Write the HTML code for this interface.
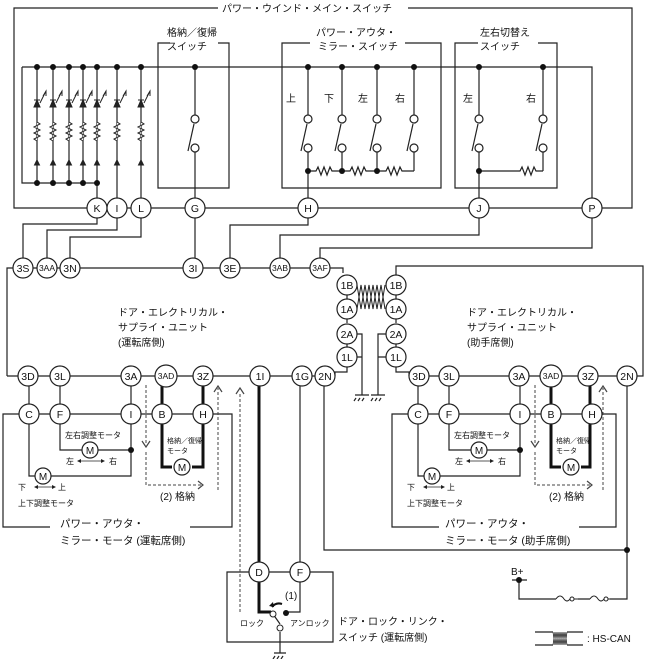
<!DOCTYPE html>
<html><head><meta charset="utf-8"><style>
html,body{margin:0;padding:0;background:#fff}
svg{display:block}
text{font-family:"Liberation Sans","Noto Sans CJK JP",sans-serif;fill:#111}
</style></head><body>
<svg width="646" height="659" viewBox="0 0 646 659" xmlns="http://www.w3.org/2000/svg">
<g fill="none" stroke="#222" stroke-width="1.2">
<path d="M218 8 H14 V208 H632 V8 H408"/>
<path d="M22 67 H592 V198"/>
<path d="M22 67 V183 H97"/>
<path d="M170 43 H158 V188 H229 V43 H218"/>
<path d="M310 43 H282 V188 H441 V43 H405"/>
<path d="M478 43 H455 V188 H557 V43 H538"/>
<path d="M37 67V183 M53 67V183 M69 67V183 M83 67V183 M97 67V198 M117 67V198 M141 67V198"/>
<path d="M195 67V115 M195 152V198 M188 151 L194 124"/>
<circle cx="195" cy="119" r="4"/><circle cx="195" cy="148" r="4"/>
<path d="M308 67V115 M308 152V198 M301 151 L307 124"/>
<circle cx="308" cy="119" r="4"/><circle cx="308" cy="148" r="4"/>
<path d="M342 67V115 M342 152V171 M335 151 L341 124"/>
<circle cx="342" cy="119" r="4"/><circle cx="342" cy="148" r="4"/>
<path d="M377 67V115 M377 152V171 M370 151 L376 124"/>
<circle cx="377" cy="119" r="4"/><circle cx="377" cy="148" r="4"/>
<path d="M414 67V115 M414 152V171 M407 151 L413 124"/>
<circle cx="414" cy="119" r="4"/><circle cx="414" cy="148" r="4"/>
<path d="M308 171 H316 l2-4 l3 8 l3-8 l3 8 l3-8 l2 4 H342 H350 l2-4 l3 8 l3-8 l3 8 l3-8 l2 4 H377 H386 l2-4 l3 8 l3-8 l3 8 l3-8 l2 4 H414"/>
<path d="M479 67V115 M479 152V198 M472 151 L478 124"/>
<circle cx="479" cy="119" r="4"/><circle cx="479" cy="148" r="4"/>
<path d="M543 67V115 M543 152V171 M536 151 L542 124"/>
<circle cx="543" cy="119" r="4"/><circle cx="543" cy="148" r="4"/>
<path d="M479 171 H520 l2-4 l3 8 l3-8 l3 8 l3-8 l2 4 H543"/>
<path d="M97 218V224H23V258 M117 218V230H47V258 M141 218V237H70V258 M195 218V258 M308 218V225H230V258 M479 218V235H280V258 M592 218V248H320V258"/>
<path d="M7 376V268H13 M33 268H37 M57 268H60 M80 268H183 M203 268H220 M240 268H270 M290 268H310 M330 268H343V273"/>
<path d="M7 376H18 M38 376H50 M70 376H121 M141 376H155 M177 376H193 M213 376H250 M270 376H292 M312 376H315"/>
<path d="M347 295V299 M347 319V323 M347 344V347 M396 295V299 M396 319V323 M396 344V347"/>
<path d="M357 334H362V395 M357 357H362 M386 334H378V395 M386 357H378"/>
<path d="M347 367V372H335V376 M396 367V372H409V376"/>
<path d="M396 275V266H643V376H637"/>
<path d="M429 376H439 M459 376H509 M529 376H540 M562 376H578 M598 376H617"/>
<path d="M355 395H369 M371 395H385 M356 398l-2 3 M360 398l-2 3 M364 398l-2 3 M373 398l-2 3 M377 398l-2 3 M381 398l-2 3"/>
<path d="M324 386V550H627 M627 386V599H610 M590 599H578 M556 599H519V580 M512 580H527"/>
<path d="M300 386V562"/>
<path d="M249 572H227V642H333V572H310 M269 572H290"/>
<path d="M300 582V612H288"/>
<path d="M280 624 L273 614 M280 632V653 M274 653H286 M275 656l-2 3 M279 656l-2 3 M283 656l-2 3"/>
<path d="M535 632H553 M567 632H583 M535 645H553 M567 645H583"/>
</g>
<!-- fuses -->
<g fill="none" stroke="#222" stroke-width="1">
<path d="M556 599 q4 -6 8 0 q3 4 6 0"/><circle cx="572" cy="599" r="2" fill="#fff"/><path d="M574 599 H578"/>
<path d="M590 599 q4 -6 8 0 q3 4 6 0"/><circle cx="606" cy="599" r="2" fill="#fff"/><path d="M608 599 H610"/>
</g>
<g fill="none" stroke="#111" stroke-width="3">
<path d="M259 386V562 M259 582V612H271"/>
<path d="M162 386V404 M203 386V404 M162 424V467H172 M192 467H203V424"/>
<path d="M551 386V404 M590 386V404 M551 424V467H561 M581 467H590V424"/>
</g>
<g fill="none" stroke="#222" stroke-width="1">
<path d="M357 285 l4 24 l4-24 l4 24 l4-24 l4 24 l4-24 l4 24"/>
<path d="M357 309 l4-24 l4 24 l4-24 l4 24 l4-24 l4 24 l4-24"/>
<path d="M553 632 l2 13 l2-13 l2 13 l2-13 l2 13 l2-13 l2 13 M553 645 l2-13 l2 13 l2-13 l2 13 l2-13 l2 13 l2-13" stroke-width="0.8"/>
</g>
<g fill="none" stroke="#222" stroke-width="1">
<g id="br">
<path d="M37 122 l3 2 l-6 3 l6 3 l-6 3 l6 3 l-6 3 l3 2" fill="#fff"/>
<path d="M37 100 l-3 7 h6 z M34 100h6" fill="#222"/>
<path d="M40 103 l6-12 M43 96 l3-5 l0 5"/>
<path d="M37 160 l-2.5 5 h5 z" fill="#222"/>
</g>
<use href="#br" x="16"/><use href="#br" x="32"/><use href="#br" x="46"/><use href="#br" x="60"/><use href="#br" x="80"/><use href="#br" x="104"/>
</g>
<g fill="#111">
<circle cx="37" cy="67" r="3"/><circle cx="53" cy="67" r="3"/><circle cx="69" cy="67" r="3"/><circle cx="83" cy="67" r="3"/><circle cx="97" cy="67" r="3"/><circle cx="117" cy="67" r="3"/><circle cx="141" cy="67" r="3"/><circle cx="195" cy="67" r="3"/>
<circle cx="308" cy="67" r="3"/><circle cx="342" cy="67" r="3"/><circle cx="377" cy="67" r="3"/><circle cx="414" cy="67" r="3"/><circle cx="479" cy="67" r="3"/><circle cx="543" cy="67" r="3"/>
<circle cx="37" cy="183" r="3"/><circle cx="53" cy="183" r="3"/><circle cx="69" cy="183" r="3"/><circle cx="83" cy="183" r="3"/><circle cx="97" cy="183" r="3"/>
<circle cx="308" cy="171" r="3"/><circle cx="342" cy="171" r="3"/><circle cx="377" cy="171" r="3"/><circle cx="479" cy="171" r="3"/>
<circle cx="627" cy="550" r="3"/><circle cx="519" cy="580" r="3"/><circle cx="286" cy="613" r="3"/>
</g>
<g fill="#fff" stroke="#222" stroke-width="1">
<circle cx="273" cy="614" r="3"/><circle cx="280" cy="628" r="3"/>
</g>
<path d="M272 607 q4 -5 10 -3" fill="none" stroke="#111" stroke-width="2"/>
<path d="M269 606 l4 -4 l1 5z" fill="#111"/>

<g id="mm">
<g fill="none" stroke="#222" stroke-width="1.2">
<path d="M50 527H3V414H19 M39 414H50 M70 414H121 M141 414H152 M172 414H193 M213 414H232V527H190"/>
<path d="M29 386V404 M60 386V404 M131 386V404"/>
<path d="M60 424V450H82 M98 450H131 M29 424V476H35 M51 476H131V424"/>
</g>
<circle cx="131" cy="450" r="3" fill="#111"/>
<g fill="#fff" stroke="#222" stroke-width="1.2">
<circle cx="90" cy="450" r="8"/><circle cx="43" cy="476" r="8"/><circle cx="182" cy="467" r="8"/>
</g>
<g font-size="10" text-anchor="middle"><text x="90" y="454">M</text><text x="43" y="480">M</text><text x="182" y="471">M</text></g>
<g fill="none" stroke="#444" stroke-width="1" stroke-dasharray="3,2">
<path d="M146 385V445 M146 452V485H201 M218 490V388"/>
</g>
<g fill="none" stroke="#444" stroke-width="1.2"><path d="M142 441l4 6l4-6 M198 481l5 4l-5 4 M214 392l4-6l4 6"/></g>
<g stroke="#222" stroke-width="0.8"><path d="M78 461H104 M35 487H55"/></g>
<g fill="#222"><path d="M77 461l4-2v4z M105 461l-4-2v4z M34 487l4-2v4z M56 487l-4-2v4z"/></g>
<g font-size="8"><text x="65" y="438">左右調整モータ</text><text x="66" y="464">左</text><text x="109" y="464">右</text><text x="18" y="490">下</text><text x="58" y="490">上</text><text x="18" y="506">上下調整モータ</text></g>
<g font-size="7"><text x="167" y="443">格納／復帰</text><text x="167" y="453">モータ</text></g>
<text x="160" y="500" font-size="10">(2) 格納</text>
<text x="60" y="527" font-size="10.5">パワー・アウタ・</text>
</g>
<text x="60" y="544" font-size="10.5">ミラー・モータ (運転席側)</text>
<g transform="translate(389,0)">
<g fill="none" stroke="#222" stroke-width="1.2">
<path d="M50 527H3V414H19 M39 414H50 M70 414H121 M141 414H152 M172 414H193 M213 414H227V527H190"/>
<path d="M29 386V404 M60 386V404 M131 386V404"/>
<path d="M60 424V450H82 M98 450H131 M29 424V476H35 M51 476H131V424"/>
</g>
<circle cx="131" cy="450" r="3" fill="#111"/>
<g fill="#fff" stroke="#222" stroke-width="1.2">
<circle cx="90" cy="450" r="8"/><circle cx="43" cy="476" r="8"/><circle cx="182" cy="467" r="8"/>
</g>
<g font-size="10" text-anchor="middle"><text x="90" y="454">M</text><text x="43" y="480">M</text><text x="182" y="471">M</text></g>
<g fill="none" stroke="#444" stroke-width="1" stroke-dasharray="3,2">
<path d="M146 385V445 M146 452V485H201 M214 490V388"/>
</g>
<g fill="none" stroke="#444" stroke-width="1.2"><path d="M142 441l4 6l4-6 M198 481l5 4l-5 4 M210 392l4-6l4 6"/></g>
<g stroke="#222" stroke-width="0.8"><path d="M78 461H104 M35 487H55"/></g>
<g fill="#222"><path d="M77 461l4-2v4z M105 461l-4-2v4z M34 487l4-2v4z M56 487l-4-2v4z"/></g>
<g font-size="8"><text x="65" y="438">左右調整モータ</text><text x="66" y="464">左</text><text x="109" y="464">右</text><text x="18" y="490">下</text><text x="58" y="490">上</text><text x="18" y="506">上下調整モータ</text></g>
<g font-size="7"><text x="167" y="443">格納／復帰</text><text x="167" y="453">モータ</text></g>
<text x="160" y="500" font-size="10">(2) 格納</text>
<text x="56" y="527" font-size="10.5">パワー・アウタ・</text>
<text x="56" y="544" font-size="10.5">ミラー・モータ (助手席側)</text>
</g>
<path d="M240 612V392" fill="none" stroke="#444" stroke-width="1" stroke-dasharray="3,2"/>
<path d="M236 394l4-6l4 6" fill="none" stroke="#444" stroke-width="1.2"/>

<g fill="#fff" stroke="#222" stroke-width="1.2">
<circle cx="97" cy="208" r="10"/><circle cx="117" cy="208" r="10"/><circle cx="141" cy="208" r="10"/><circle cx="195" cy="208" r="10"/><circle cx="308" cy="208" r="10"/><circle cx="479" cy="208" r="10"/><circle cx="592" cy="208" r="10"/>
<circle cx="23" cy="268" r="10"/><circle cx="47" cy="268" r="10"/><circle cx="70" cy="268" r="10"/><circle cx="193" cy="268" r="10"/><circle cx="230" cy="268" r="10"/><circle cx="280" cy="268" r="10"/><circle cx="320" cy="268" r="10"/>
<circle cx="347" cy="285" r="10"/><circle cx="347" cy="309" r="10"/><circle cx="347" cy="334" r="10"/><circle cx="347" cy="357" r="10"/>
<circle cx="396" cy="285" r="10"/><circle cx="396" cy="309" r="10"/><circle cx="396" cy="334" r="10"/><circle cx="396" cy="357" r="10"/>
<circle cx="28" cy="376" r="10"/><circle cx="60" cy="376" r="10"/><circle cx="131" cy="376" r="10"/><circle cx="166" cy="376" r="11"/><circle cx="203" cy="376" r="10"/><circle cx="260" cy="376" r="10"/><circle cx="302" cy="376" r="10"/><circle cx="325" cy="376" r="10"/>
<circle cx="419" cy="376" r="10"/><circle cx="449" cy="376" r="10"/><circle cx="519" cy="376" r="10"/><circle cx="551" cy="376" r="11"/><circle cx="588" cy="376" r="10"/><circle cx="627" cy="376" r="10"/>
<circle cx="29" cy="414" r="10"/><circle cx="60" cy="414" r="10"/><circle cx="131" cy="414" r="10"/><circle cx="162" cy="414" r="10"/><circle cx="203" cy="414" r="10"/>
<circle cx="418" cy="414" r="10"/><circle cx="449" cy="414" r="10"/><circle cx="520" cy="414" r="10"/><circle cx="551" cy="414" r="10"/><circle cx="592" cy="414" r="10"/>
<circle cx="259" cy="572" r="10"/><circle cx="300" cy="572" r="10"/>
</g>
<g font-size="10.5" text-anchor="middle">
<text x="97" y="212">K</text><text x="117" y="212">I</text><text x="141" y="212">L</text><text x="195" y="212">G</text><text x="308" y="212">H</text><text x="479" y="212">J</text><text x="592" y="212">P</text>
<text x="23" y="272">3S</text><text x="193" y="272">3I</text><text x="230" y="272">3E</text><text x="70" y="272">3N</text>
<text x="347" y="289">1B</text><text x="347" y="313">1A</text><text x="347" y="338">2A</text><text x="347" y="361">1L</text>
<text x="396" y="289">1B</text><text x="396" y="313">1A</text><text x="396" y="338">2A</text><text x="396" y="361">1L</text>
<text x="28" y="380">3D</text><text x="60" y="380">3L</text><text x="131" y="380">3A</text><text x="203" y="380">3Z</text><text x="260" y="380">1I</text><text x="302" y="380">1G</text><text x="325" y="380">2N</text>
<text x="419" y="380">3D</text><text x="449" y="380">3L</text><text x="519" y="380">3A</text><text x="588" y="380">3Z</text><text x="627" y="380">2N</text>
<text x="29" y="418">C</text><text x="60" y="418">F</text><text x="131" y="418">I</text><text x="162" y="418">B</text><text x="203" y="418">H</text>
<text x="418" y="418">C</text><text x="449" y="418">F</text><text x="520" y="418">I</text><text x="551" y="418">B</text><text x="592" y="418">H</text>
<text x="259" y="576">D</text><text x="300" y="576">F</text>
</g>
<g font-size="8.5" text-anchor="middle">
<text x="47" y="271">3AA</text><text x="280" y="271">3AB</text><text x="320" y="271">3AF</text><text x="166" y="379">3AD</text><text x="551" y="379">3AD</text>
</g>
<g font-size="10">
<text x="222" y="12">パワー・ウインド・メイン・スイッチ</text>
<text x="167" y="36">格納／復帰</text><text x="167" y="50">スイッチ</text>
<text x="316" y="36">パワー・アウタ・</text><text x="318" y="50">ミラー・スイッチ</text>
<text x="480" y="36">左右切替え</text><text x="480" y="50">スイッチ</text>
<text x="286" y="102" fill="#666">上</text><text x="324" y="102">下</text><text x="358" y="102">左</text><text x="395" y="102">右</text>
<text x="463" y="102">左</text><text x="526" y="102">右</text>
<text x="118" y="316">ドア・エレクトリカル・</text><text x="118" y="331">サプライ・ユニット</text><text x="118" y="346">(運転席側)</text>
<text x="467" y="316">ドア・エレクトリカル・</text><text x="467" y="331">サプライ・ユニット</text><text x="467" y="346">(助手席側)</text>
<text x="338" y="625">ドア・ロック・リンク・</text><text x="338" y="641">スイッチ (運転席側)</text>
<text x="511" y="575">B+</text>
<text x="587" y="642">: HS-CAN</text>
<text x="285" y="599">(1)</text>
</g>
<g font-size="8"><text x="240" y="626">ロック</text><text x="290" y="626">アンロック</text></g>
</svg>
</body></html>
